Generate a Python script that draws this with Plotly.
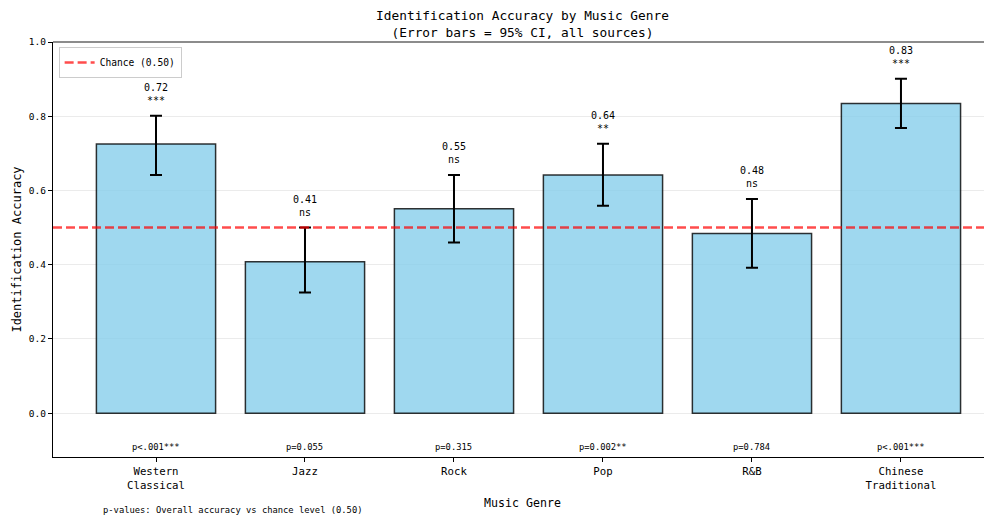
import plotly.graph_objects as go

genres = ["Western<br>Classical", "Jazz", "Rock", "Pop", "R&B", "Chinese<br>Traditional"]
accuracy = [0.725, 0.408, 0.551, 0.642, 0.484, 0.834]
ci_low = [0.642, 0.325, 0.460, 0.559, 0.392, 0.768]
ci_high = [0.801, 0.500, 0.642, 0.726, 0.577, 0.901]
value_labels = ["0.72", "0.41", "0.55", "0.64", "0.48", "0.83"]
sig_labels = ["***", "ns", "ns", "**", "ns", "***"]
p_labels = ["p<.001***", "p=0.055", "p=0.315", "p=0.002**", "p=0.784", "p<.001***"]
chance = 0.5

FONT = "DejaVu Sans Mono"
xpos = list(range(len(genres)))
X_RANGE = [-0.6913, 5.611]

fig = go.Figure()
fig.add_trace(go.Bar(
    x=xpos, y=accuracy, width=0.8,
    marker=dict(color="rgba(135,206,235,0.8)", line=dict(color="rgba(0,0,0,0.8)", width=1.5)),
    error_y=dict(type="data", symmetric=False,
                 array=[h - a for h, a in zip(ci_high, accuracy)],
                 arrayminus=[a - l for a, l in zip(accuracy, ci_low)],
                 color="black", thickness=2, width=6),
    showlegend=False, hoverinfo="skip",
))
fig.add_trace(go.Scatter(
    x=X_RANGE, y=[chance, chance], mode="lines",
    line=dict(color="rgba(255,0,0,0.7)", width=2.5, dash="9px,4px"),
    name="Chance (0.50)",
))

for i in xpos:
    fig.add_annotation(x=i, y=ci_high[i], text=f"{value_labels[i]}<br>{sig_labels[i]}",
                       showarrow=False, yanchor="bottom", yshift=8,
                       font=dict(family=FONT, size=10, color="black"))
    fig.add_annotation(x=i, y=-0.091, text=p_labels[i], showarrow=False,
                       font=dict(family=FONT, size=8.8, color="black"))

fig.add_annotation(xref="paper", yref="paper", x=(101 - 53) / 939, y=-(510 - 457) / 415,
                   xanchor="left", yanchor="middle", showarrow=False,
                   text="p-values: Overall accuracy vs chance level (0.50)",
                   font=dict(family=FONT, size=8.8, color="black"))

# top spine (gray)
fig.add_shape(type="line", xref="paper", yref="paper", x0=0, x1=1, y0=1, y1=1,
              line=dict(color="#666666", width=1.5))

# the page body has an 8px default margin, so the figure is sized/offset to compensate
W, H, OFF = 984, 514, 8
fig.update_layout(
    width=W, height=H,
    margin=dict(l=53 - OFF, r=0, t=42 - OFF, b=65),
    paper_bgcolor="white", plot_bgcolor="white",
    font=dict(family=FONT, color="black"),
    title=dict(text="Identification Accuracy by Music Genre<br>(Error bars = 95% CI, all sources)",
               x=0.5, xref="paper", xanchor="center", y=1 - (20 - OFF) / H, yanchor="middle",
               font=dict(family=FONT, size=12.8, color="black")),
    legend=dict(x=0.006, y=0.988, xanchor="left", yanchor="top",
                bgcolor="rgba(255,255,255,0.8)", bordercolor="#cccccc", borderwidth=1,
                font=dict(family=FONT, size=9.6, color="black")),
    xaxis=dict(range=X_RANGE, tickvals=xpos, ticktext=genres, automargin=False,
               showline=True, linecolor="black", linewidth=1.2,
               ticks="outside", ticklen=4, tickcolor="black",
               tickfont=dict(family=FONT, size=10.7, color="black"),
               showgrid=False, zeroline=False,
               title=dict(text="Music Genre", font=dict(family=FONT, size=11.6, color="black"), standoff=8)),
    yaxis=dict(range=[-0.118, 1.0], tickvals=[0, 0.2, 0.4, 0.6, 0.8, 1.0], tickformat=".1f",
               automargin=False,
               showline=True, linecolor="black", linewidth=1.2,
               ticks="outside", ticklen=4, tickcolor="black",
               tickfont=dict(family=FONT, size=9.5, color="black"),
               showgrid=True, gridcolor="rgba(0,0,0,0.08)", gridwidth=1, zeroline=False,
               title=dict(text="Identification Accuracy", font=dict(family=FONT, size=12, color="black"), standoff=4)),
    bargap=0.2,
)

fig.write_html("out.html")
